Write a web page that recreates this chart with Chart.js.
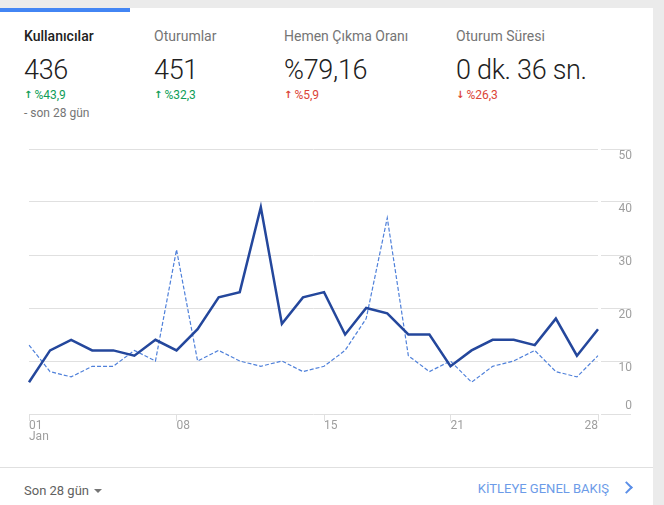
<!DOCTYPE html>
<html lang="tr">
<head>
<meta charset="utf-8">
<script src="https://cdn.jsdelivr.net/npm/chart.js@4/dist/chart.umd.min.js"></script>
<style>
	html, body {
		margin: 0;
		padding: 0;
		background: #ebebeb;
		font-family: Roboto, "Noto Sans", sans-serif;
		width: 664px;
		height: 505px;
		overflow: hidden;
	}
	.card {
		position: absolute;
		left: 0;
		top: 8px;
		width: 653px;
		height: 497px;
		background: #fff;
	}
	.tab-bar {
		position: absolute;
		left: 0;
		top: 8px;
		width: 130px;
		height: 4px;
		background: #4285f4;
	}
	.t {
		position: absolute;
		line-height: 1;
		white-space: nowrap;
	}
	.title { top: 29px; font-size: 14px; color: #757575; }
	.title.active { color: #212121; font-weight: 500; }
	.big {
		top: 57px;
		font-family: "Roboto Light", Roboto, sans-serif;
		font-size: 27px;
		font-weight: 300;
		color: #212121;
		letter-spacing: -0.3px;
	}
	.delta { top: 89px; font-size: 12px; }
	.up { color: #0f9d58; }
	.down { color: #db4437; }
	.arr {
		font-family: "DejaVu Sans", sans-serif;
		font-weight: 700;
		font-size: 10px;
		margin-right: 2px;
		vertical-align: 1px;
	}
	.sub { top: 107px; font-size: 12px; color: #757575; }
	.chart-box {
		position: absolute;
		left: 0;
		top: 130px;
		width: 655px;
		height: 320px;
	}
	.sep {
		position: absolute;
		left: 0;
		top: 467px;
		width: 653px;
		height: 1px;
		background: #e0e0e0;
	}
	.foot-left { top: 484px; left: 24px; font-size: 13px; color: #616161; }
	.caret {
		display: inline-block;
		width: 0;
		height: 0;
		border-left: 4px solid transparent;
		border-right: 4px solid transparent;
		border-top: 4px solid #757575;
		margin-left: 5px;
		vertical-align: 2px;
	}
	.foot-right { top: 482px; right: 55px; font-size: 13px; color: #6c9be8; }
	.chev {
		position: absolute;
		left: 622px;
		top: 483px;
		width: 7px;
		height: 7px;
		border-right: 2px solid #5b8fe8;
		border-top: 2px solid #5b8fe8;
		transform: rotate(45deg);
	}
</style>
</head>
<body>
<div class="card"></div>
<div class="tab-bar"></div>

<div class="t title active" style="left:24px">Kullanıcılar</div>
<div class="t title" style="left:154px">Oturumlar</div>
<div class="t title" style="left:284px">Hemen Çıkma Oranı</div>
<div class="t title" style="left:456px">Oturum Süresi</div>

<div class="t big" style="left:24px">436</div>
<div class="t big" style="left:154px">451</div>
<div class="t big" style="left:284px">%79,16</div>
<div class="t big" style="left:456px">0 dk. 36 sn.</div>

<div class="t delta up" style="left:24px"><span class="arr">↑</span>%43,9</div>
<div class="t delta up" style="left:154px"><span class="arr">↑</span>%32,3</div>
<div class="t delta down" style="left:284px"><span class="arr">↑</span>%5,9</div>
<div class="t delta down" style="left:456px"><span class="arr">↓</span>%26,3</div>

<div class="t sub" style="left:24px">- son 28 gün</div>

<div class="chart-box"><canvas id="users-chart"></canvas></div>

<div class="sep"></div>
<div class="t foot-left">Son 28 gün<span class="caret"></span></div>
<div class="t foot-right">KİTLEYE GENEL BAKIŞ</div>
<div class="chev"></div>

<script>
// days of the period
const days = [
	'01', '02', '03', '04', '05', '06', '07', '08', '09', '10',
	'11', '12', '13', '14', '15', '16', '17', '18', '19', '20',
	'21', '22', '23', '24', '25', '26', '27', '28',
];
// only these get a tick mark and a label
const shownDays = [ '01', '08', '15', '21', '28' ];
const monthLabel = 'Jan';

// users per day, current 28 days
const currentUsers = [
	6, 12, 14, 12, 12, 11, 14, 12, 16, 22, 23, 39, 17, 22,
	23, 15, 20, 19, 15, 15, 9, 12, 14, 14, 13, 18, 11, 16,
];
// users per day, previous 28 days
const previousUsers = [
	13, 8, 7, 9, 9, 12, 10, 31, 10, 12, 10, 9, 10, 8,
	9, 12, 18, 37, 11, 8, 10, 6, 9, 10, 12, 8, 7, 11,
];

const yTicks = [ 0, 10, 20, 30, 40, 50 ];

const GRID = '#e0e0e0';
const LABEL = '#9e9e9e';

// draws the axis labels the way the original dashboard does
const axisLabels = {
	id: 'axisLabels',
	afterDraw( chart ) {
		const { ctx } = chart;
		const x = chart.scales.x;
		const y = chart.scales.y;
		ctx.save();
		ctx.font = '12px Roboto, "Noto Sans", sans-serif';
		ctx.fillStyle = LABEL;
		ctx.textBaseline = 'middle';

		ctx.textAlign = 'right';
		y.ticks.forEach( ( t ) => {
			const py = y.getPixelForValue( t.value );
			ctx.fillText( String( t.value ), y.left + 34, t.value === 0 ? py - 8 : py + 7 );
		} );

		shownDays.forEach( ( d, i ) => {
			const idx = days.indexOf( d );
			const px = x.getPixelForValue( idx );
			ctx.textAlign = i === shownDays.length - 1 ? 'right' : 'left';
			ctx.fillText( d, px, x.top + 12 );
			if ( i === 0 ) {
				ctx.fillText( monthLabel, px, x.top + 23 );
			}
		} );
		ctx.restore();
	},
};

new Chart( document.getElementById( 'users-chart' ), {
	type: 'line',
	data: {
		labels: days,
		datasets: [
			{
				label: 'Kullanıcılar',
				data: currentUsers,
				borderColor: '#24479c',
				borderWidth: 2.5,
				pointRadius: 0,
				tension: 0,
				order: 1,
			},
			{
				label: 'Önceki dönem',
				data: previousUsers,
				borderColor: '#4f80da',
				borderWidth: 1.2,
				borderDash: [ 4, 2 ],
				pointRadius: 0,
				tension: 0,
				order: 2,
			},
		],
	},
	options: {
		responsive: true,
		maintainAspectRatio: false,
		animation: false,
		layout: {
			padding: { left: 29, right: 23, top: 19, bottom: 0 },
		},
		plugins: {
			legend: { display: false },
			tooltip: { enabled: false },
		},
		scales: {
			x: {
				offset: false,
				border: { display: false },
				grid: {
					drawOnChartArea: false,
					drawTicks: true,
					tickLength: 7,
					tickColor: ( c ) =>
						shownDays.includes( days[ c.index ] ) ? GRID : 'rgba(0,0,0,0)',
				},
				ticks: { display: false, autoSkip: false },
				afterFit: ( scale ) => {
					scale.height = 36;
				},
			},
			y: {
				position: 'right',
				min: 0,
				max: 50,
				border: { display: false },
				grid: {
					color: GRID,
					tickColor: GRID,
					tickLength: 33,
					tickBorderDash: [ 30, 3 ],
					tickBorderDashOffset: 30,
				},
				ticks: {
					display: false,
					stepSize: 10,
				},
				afterBuildTicks: ( scale ) => {
					scale.ticks = yTicks.map( ( v ) => ( { value: v } ) );
				},
				afterFit: ( scale ) => {
					scale.width = 34;
				},
			},
		},
	},
	plugins: [ axisLabels ],
} );
</script>
</body>
</html>
